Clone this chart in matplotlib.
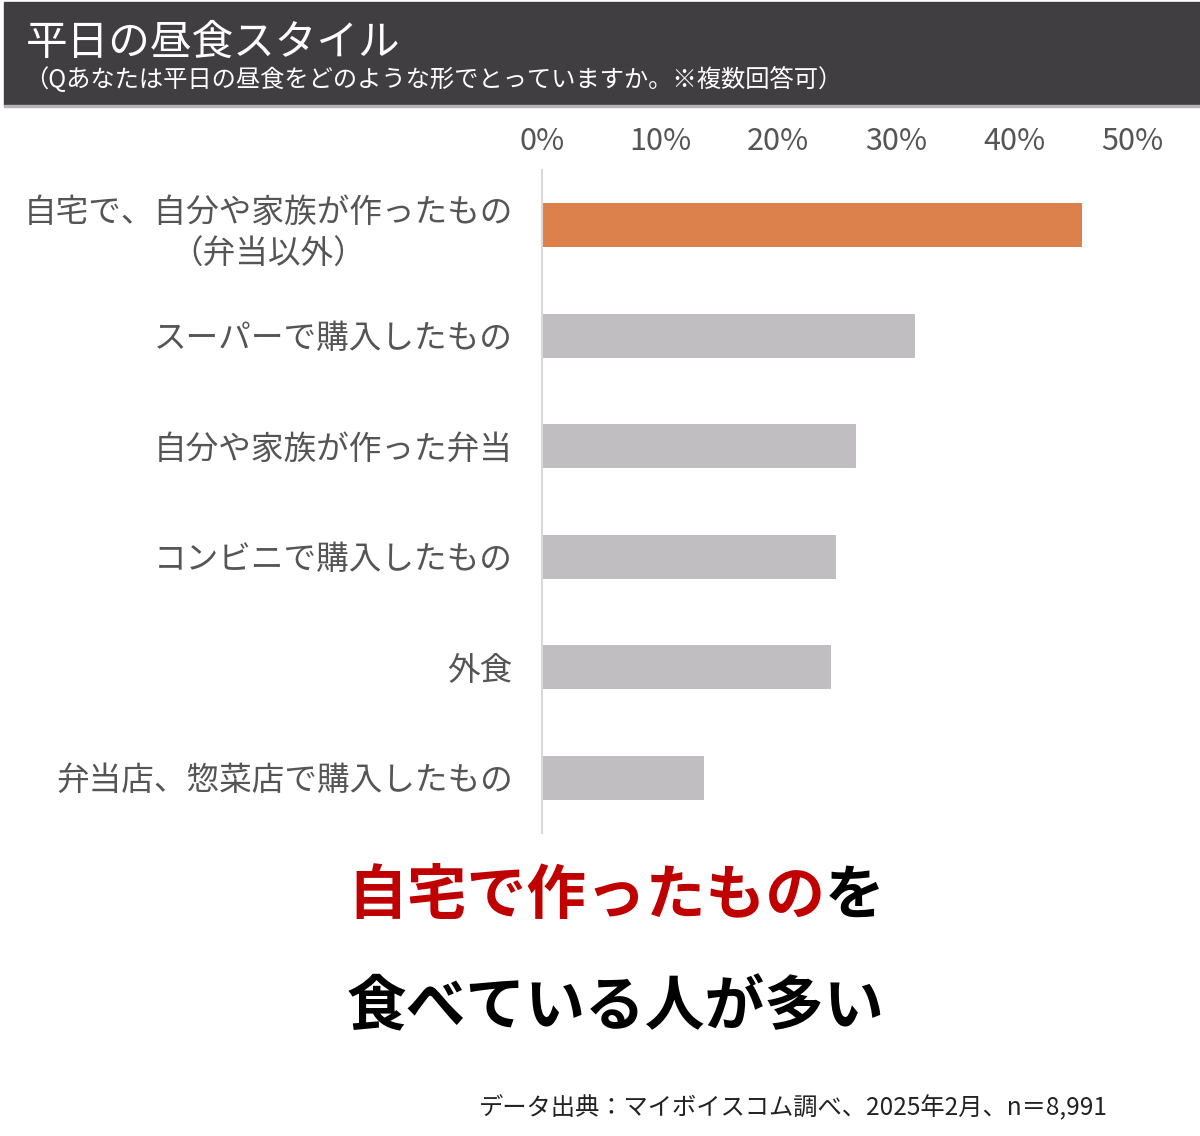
import matplotlib
matplotlib.use("Agg")
import matplotlib.pyplot as plt
from matplotlib.patches import Rectangle

plt.rcParams["font.family"] = ["Noto Sans CJK JP", "DejaVu Sans"]

W, H = 1200, 1136

categories = [
    "自宅で、自分や家族が作ったもの\n（弁当以外）",
    "スーパーで購入したもの",
    "自分や家族が作った弁当",
    "コンビニで購入したもの",
    "外食",
    "弁当店、惣菜店で購入したもの",
]
values = [45.8, 31.6, 26.6, 24.9, 24.5, 13.7]
bar_colors = ["#dd814c", "#c0bec0", "#c0bec0", "#c0bec0", "#c0bec0", "#c0bec0"]
ticks = [0, 10, 20, 30, 40, 50]
tick_labels = ["0%", "10%", "20%", "30%", "40%", "50%"]

title = "平日の昼食スタイル"
subtitle = "（Qあなたは平日の昼食をどのような形でとっていますか。※複数回答可）"
msg_red = "自宅で作ったもの"
msg_black = "を"
msg_line2 = "食べている人が多い"
source = "データ出典：マイボイスコム調べ、2025年2月、n＝8,991"


def fx(x):
    return x / W


def fy(y):
    return 1 - y / H


fig = plt.figure(figsize=(W / 100, H / 100), dpi=100)
fig.patch.set_facecolor("white")

# header band
fig.patches.append(Rectangle((fx(4), fy(105)), fx(1196), 103 / H,
                             transform=fig.transFigure, color="#403e41", zorder=0))
fig.patches.append(Rectangle((fx(4), fy(107)), fx(1196), 2 / H,
                             transform=fig.transFigure, color="#b5b5b5", zorder=0))
fig.text(fx(26), fy(43), title, color="white", fontsize=30, va="center", ha="left")
fig.text(fx(24), fy(80), subtitle, color="white", fontsize=17.5, va="center", ha="left")

# bar chart
ax = fig.add_axes([fx(542), fy(833), 590 / W, 663 / H])
y = list(range(len(categories)))
ax.barh(y, values, height=0.4, color=bar_colors)
ax.set_xlim(0, 50)
ax.set_ylim(5.5, -0.5)
ax.xaxis.tick_top()
ax.set_xticks(ticks)
ax.set_xticklabels(tick_labels, fontsize=22, color="#555555")
ax.set_yticks(y)
ax.set_yticklabels(categories, fontsize=23.5, color="#555555",
                   multialignment="center", linespacing=1.4)
ax.tick_params(axis="x", length=0, pad=9)
ax.tick_params(axis="y", length=0, pad=21)
for side in ["top", "right", "bottom"]:
    ax.spines[side].set_visible(False)
ax.spines["left"].set_color("#d9d9d9")
ax.spines["left"].set_linewidth(1.5)

# message
fig.canvas.draw()
renderer = fig.canvas.get_renderer()
t_red = fig.text(0, fy(897), msg_red, color="#c00000", fontsize=43,
                 fontweight="bold", va="center", ha="left")
t_blk = fig.text(0, fy(897), msg_black, color="black", fontsize=43,
                 fontweight="bold", va="center", ha="left")
w_red = t_red.get_window_extent(renderer).width
w_blk = t_blk.get_window_extent(renderer).width
x0 = 616 - (w_red + w_blk) / 2
t_red.set_x(fx(x0))
t_blk.set_x(fx(x0 + w_red))
fig.text(fx(616), fy(1008), msg_line2, color="black", fontsize=43,
         fontweight="bold", va="center", ha="center")

fig.text(fx(1108), fy(1108), source, color="#222222", fontsize=17.5,
         va="center", ha="right")

fig.savefig("out.png", dpi=100, facecolor="white")
